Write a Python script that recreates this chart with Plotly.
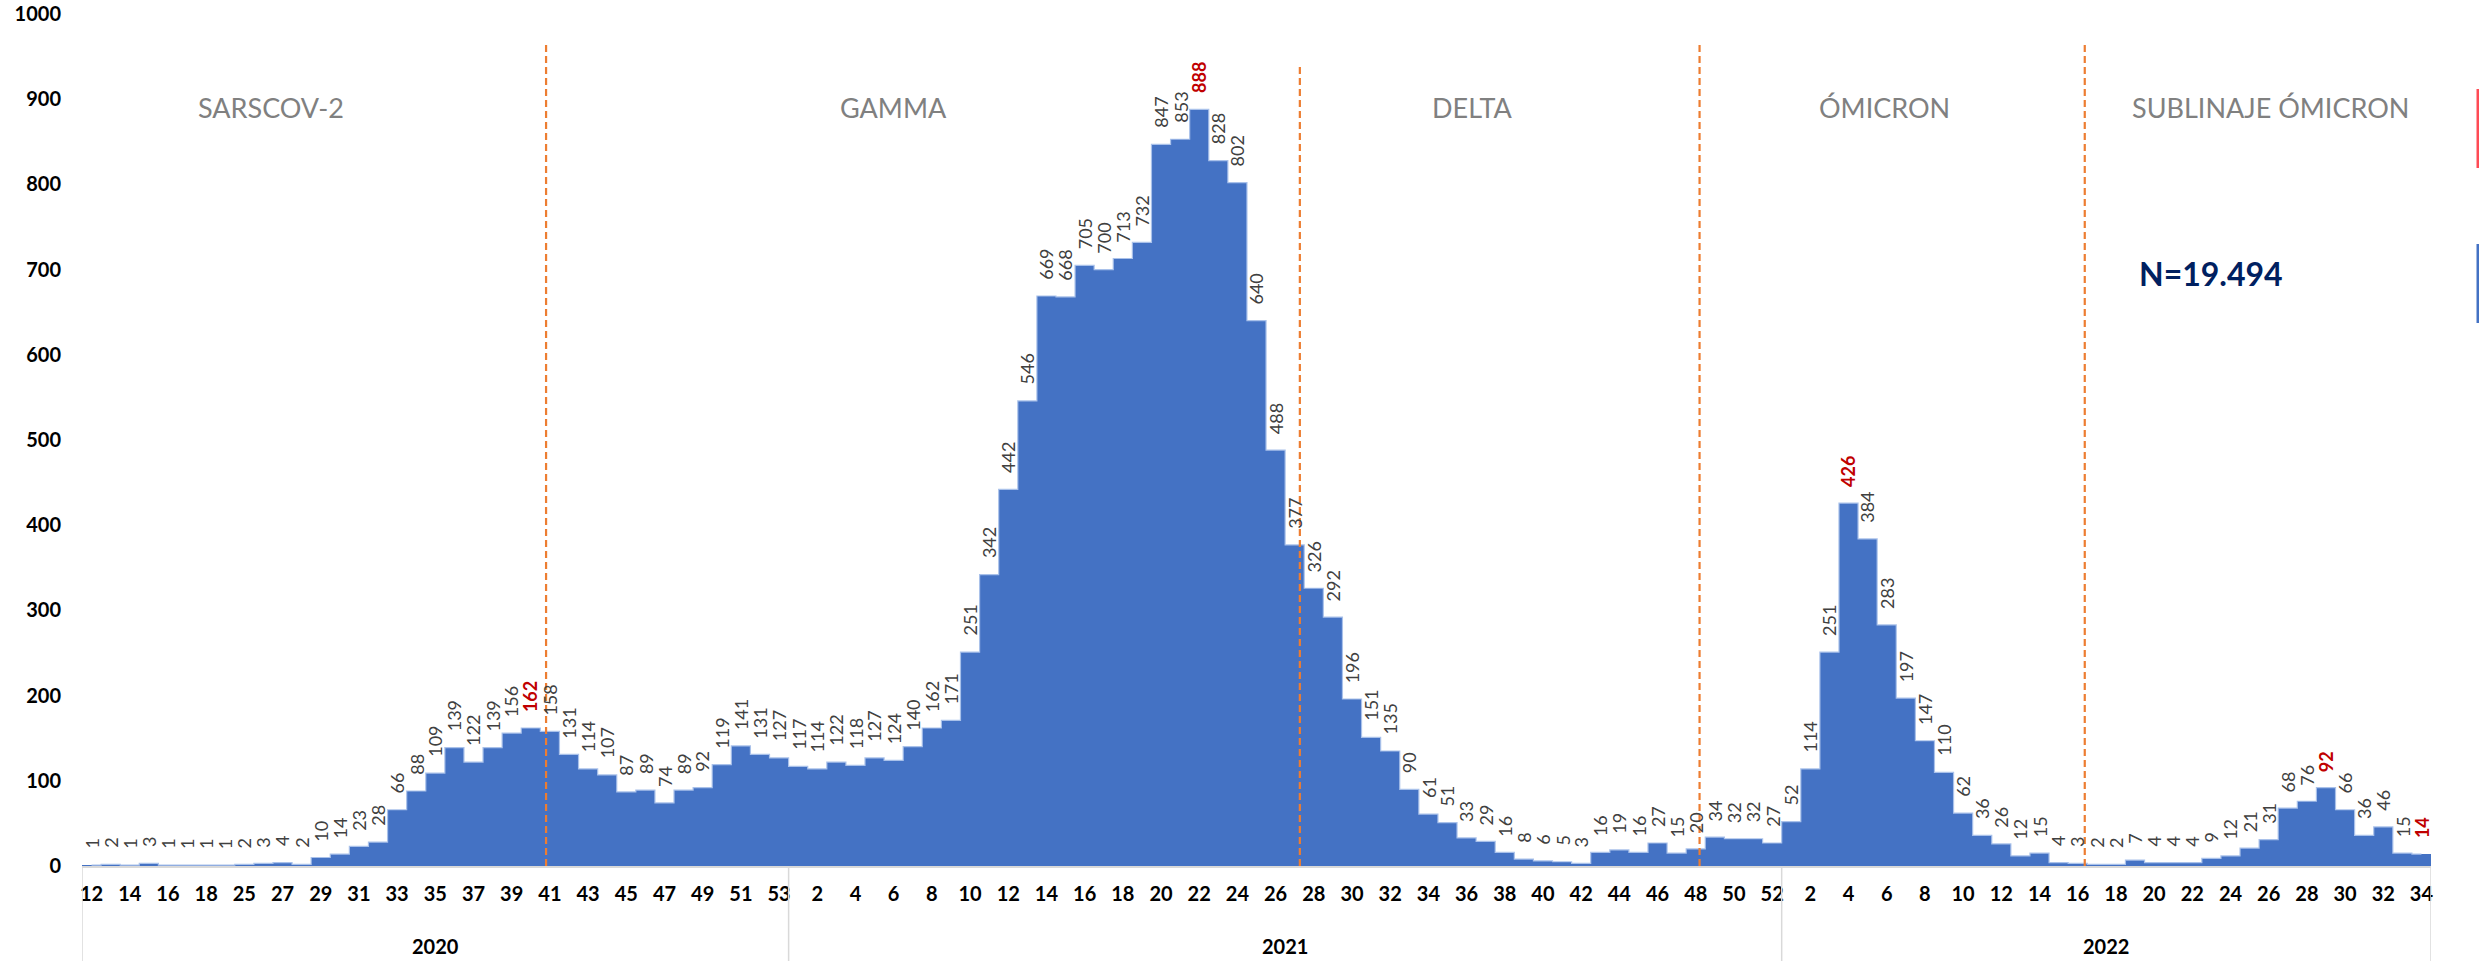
import plotly.graph_objects as go

# ---------------- data ----------------
years = ["2020", "2021", "2022"]
weeks_2020 = ["12", "13", "14", "15", "16", "17", "18", "24"] + [str(w) for w in range(25, 54)]
weeks_2021 = [str(w) for w in range(1, 53)]
weeks_2022 = [str(w) for w in range(1, 35)]

cases_2020 = [1, 2, 1, 3, 1, 1, 1, 1, 2, 3, 4, 2, 10, 14, 23, 28, 66, 88, 109, 139, 122, 139,
              156, 162, 158, 131, 114, 107, 87, 89, 74, 89, 92, 119, 141, 131, 127]
cases_2021 = [117, 114, 122, 118, 127, 124, 140, 162, 171, 251, 342, 442, 546, 669, 668, 705,
              700, 713, 732, 847, 853, 888, 828, 802, 640, 488, 377, 326, 292, 196, 151, 135,
              90, 61, 51, 33, 29, 16, 8, 6, 5, 3, 16, 19, 16, 27, 15, 20, 34, 32, 32, 27]
cases_2022 = [52, 114, 251, 426, 384, 283, 197, 147, 110, 62, 36, 26, 12, 15, 4, 3, 2, 2, 7,
              4, 4, 4, 9, 12, 21, 31, 68, 76, 92, 66, 36, 46, 15, 14]

highlight = [("2020", "40"), ("2021", "22"), ("2022", "4"), ("2022", "29"), ("2022", "34")]

periods = ["SARSCOV-2", "GAMMA", "DELTA", "ÓMICRON", "SUBLINAJE ÓMICRON"]
# period boundaries: (year, week, offset in bars)
boundaries = [("2020", "41", -0.2), ("2021", "27", 0.27), ("2021", "48", 0.2), ("2022", "16", 0.37)]
boundary_tops = [966, 938, 964, 964]
period_label_pos = [9.4, 42.0, 72.3, 93.9, 114.1]
total_label = "N=19.494"

# ---------------- build ----------------
week_lists = {"2020": weeks_2020, "2021": weeks_2021, "2022": weeks_2022}
case_lists = {"2020": cases_2020, "2021": cases_2021, "2022": cases_2022}

cat_year, cat_week, values = [], [], []
for y in years:
    for w, v in zip(week_lists[y], case_lists[y]):
        cat_year.append(y)
        cat_week.append(w)
        values.append(v)
idx = list(range(len(values)))
key_index = {(y, w): i for i, (y, w) in enumerate(zip(cat_year, cat_week))}

BLUE = "#4472C4"
LBL_FONT = "Lato, 'Open Sans', sans-serif"
LBL_SIZE = 18
GAP = 16          # px between bar top and label end
DIGIT_W = 0.58    # Lato digit advance (em)

fig = go.Figure()
fig.add_trace(go.Bar(x=idx, y=values, marker=dict(color=BLUE, line=dict(width=0)),
                     width=1.0, showlegend=False, hoverinfo="y"))
fig.add_trace(go.Scatter(x=idx, y=values, mode="lines", line=dict(color="#A9C1EA", width=1.2, shape="hvh"),
                         showlegend=False, hoverinfo="skip"))

annotations = []
for i, v in enumerate(values):
    hi = (cat_year[i], cat_week[i]) in highlight
    s = str(v)
    half_len = len(s) * DIGIT_W * LBL_SIZE / 2
    annotations.append(dict(
        x=i, y=v, xref="x", yref="y", text=f"<b>{s}</b>" if hi else s,
        textangle=-90, xanchor="center", yanchor="middle", yshift=GAP + half_len, showarrow=False,
        font=dict(family=LBL_FONT, size=LBL_SIZE, color="#C00000" if hi else "#404040")))

# period labels
for name, px in zip(periods, period_label_pos):
    annotations.append(dict(x=px, y=890, xref="x", yref="y", text=name, showarrow=False,
                            xanchor="center", yanchor="middle",
                            font=dict(family=LBL_FONT, size=27, color="#808080")))
annotations.append(dict(x=111.0, y=695, xref="x", yref="y", text=f"<b>{total_label}</b>",
                        showarrow=False, xanchor="center", yanchor="middle",
                        font=dict(family=LBL_FONT, size=32, color="#002060")))

# year group labels + dividers
shapes = []
start = 0
for y in years:
    n = len(week_lists[y])
    annotations.append(dict(x=start + (n - 1) / 2, y=-0.094, xref="x", yref="paper",
                            text=f"<b>{y}</b>", showarrow=False, xanchor="center", yanchor="middle",
                            font=dict(family=LBL_FONT, size=20, color="black")))
    shapes.append(dict(type="line", xref="x", yref="paper", x0=start - 0.5, x1=start - 0.5,
                       y0=0, y1=-0.112, line=dict(color="#D9D9D9", width=1.5)))
    start += n
shapes.append(dict(type="line", xref="x", yref="paper", x0=start - 0.5, x1=start - 0.5,
                   y0=0, y1=-0.112, line=dict(color="#D9D9D9", width=1.5)))

# period boundary dashed lines
for (y, w, off), top in zip(boundaries, boundary_tops):
    xb = key_index[(y, w)] + off
    shapes.append(dict(type="line", xref="x", yref="y", x0=xb, x1=xb, y0=-13, y1=top,
                       line=dict(color="#ED7D31", width=2.2, dash="7px,4px")))

# cut-off legend markers at the right edge
def px2paper_x(p):
    return (p - 82) / 2349
def px2paper_y(p):
    return (866 - p) / 852
shapes.append(dict(type="rect", xref="paper", yref="paper", x0=px2paper_x(2476.5), x1=px2paper_x(2479),
                   y0=px2paper_y(168), y1=px2paper_y(89), line=dict(width=0), fillcolor="#FF4B55"))
shapes.append(dict(type="rect", xref="paper", yref="paper", x0=px2paper_x(2476.5), x1=px2paper_x(2479),
                   y0=px2paper_y(323), y1=px2paper_y(244), line=dict(width=0), fillcolor="#4472C4"))

tickvals = [i for i in idx if i % 2 == 0]
ticktext = [cat_week[i] for i in tickvals]

fig.update_layout(
    width=2479, height=961,
    margin=dict(l=82, r=48, t=14, b=95, autoexpand=False),
    paper_bgcolor="white", plot_bgcolor="white",
    bargap=0,
    annotations=annotations,
    shapes=shapes,
    xaxis=dict(range=[-0.5, len(values) - 0.5], tickmode="array", tickvals=tickvals, ticktext=ticktext,
               showgrid=False, zeroline=False, showline=True, linecolor="#D9D9D9", linewidth=1.5,
               ticks="", tickangle=0, ticklabelstandoff=9, automargin=False,
               tickfont=dict(family=LBL_FONT, size=20, color="black", weight="bold")),
    yaxis=dict(range=[0, 1000], tickmode="linear", tick0=0, dtick=100, showgrid=False,
               zeroline=False, showline=False, ticks="", ticklabelstandoff=20, automargin=False,
               tickfont=dict(family=LBL_FONT, size=20, color="black", weight="bold")),
)

fig.write_html("out.html", config={"displayModeBar": False},
               post_script="document.body.style.margin='0';document.body.style.overflow='hidden';")
